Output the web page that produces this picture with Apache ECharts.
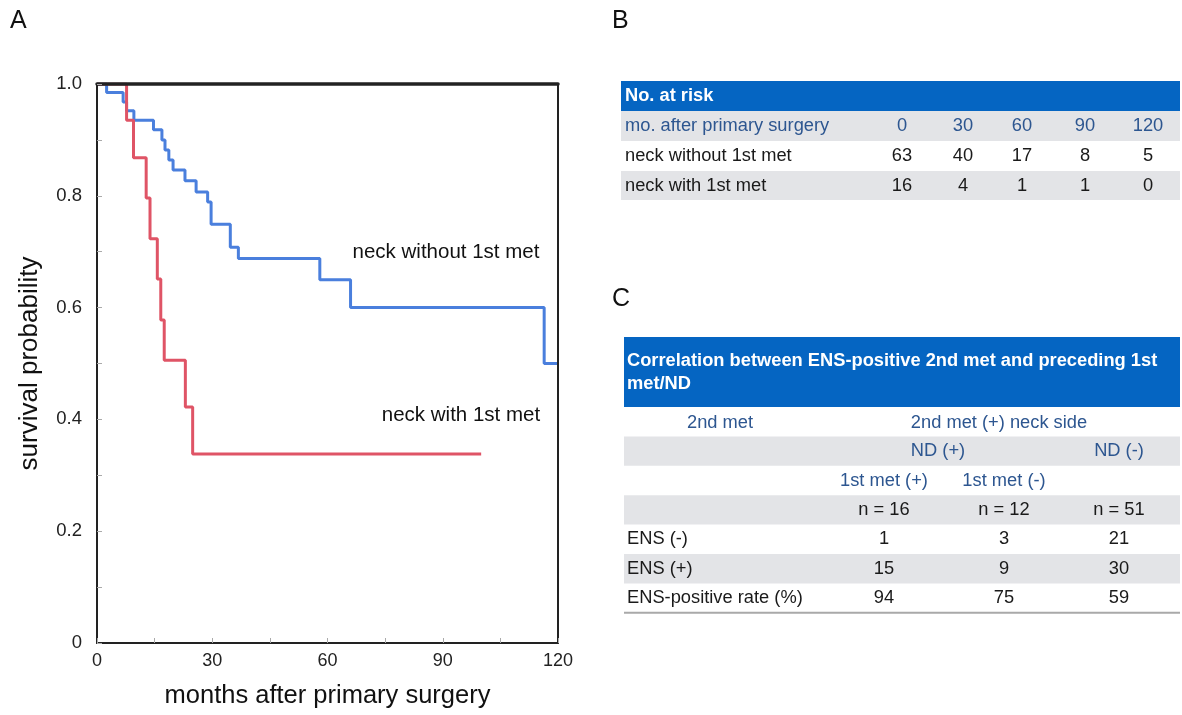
<!DOCTYPE html>
<html>
<head>
<meta charset="utf-8">
<script src="https://cdn.jsdelivr.net/npm/echarts@6/dist/echarts.min.js"></script>
<style>
  html, body { margin: 0; padding: 0; background: #ffffff; }
  #chart { width: 1182px; height: 715px; }
</style>
</head>
<body>
<div id="chart"></div>
<script>
// Kaplan–Meier steps: [month, survival probability from that month on]
const neckWithoutMet = [
  [0, 1.0], [2.5, 0.985], [6.8, 0.968], [7.7, 0.952], [9.6, 0.935],
  [14.7, 0.918], [16.9, 0.900], [17.7, 0.882], [18.7, 0.864], [19.8, 0.846],
  [22.9, 0.827], [25.8, 0.807], [28.8, 0.789], [29.7, 0.749], [34.7, 0.708],
  [36.8, 0.688], [58, 0.650], [66, 0.600], [116.4, 0.500], [120, 0.500]
];
const neckWithMet = [
  [0, 1.0], [7.7, 0.935], [9.5, 0.868], [12.8, 0.796], [13.8, 0.723],
  [15.7, 0.651], [16.6, 0.578], [17.5, 0.506], [23, 0.422], [24.9, 0.338],
  [100, 0.338]
];
const seriesNames = ['neck without 1st met', 'neck with 1st met'];

// Table B: number at risk
const riskTitle = 'No. at risk';
const riskAxisLabel = 'mo. after primary surgery';
const riskMonths = [0, 30, 60, 90, 120];
const riskRowLabels = ['neck without 1st met', 'neck with 1st met'];
const riskCounts = [
  [63, 40, 17, 8, 5],
  [16, 4, 1, 1, 0]
];

// Table C: ENS-positive 2nd met vs preceding 1st met / ND
const ensTitleLines = ['Correlation between ENS-positive 2nd met and preceding 1st', 'met/ND'];
const ensFirstHeader = ['2nd met', '2nd met (+) neck side'];
const ensNdHeader = ['ND (+)', 'ND (-)'];
const ensMetHeader = ['1st met (+)', '1st met (-)'];
const ensN = [16, 12, 51];
const ensRowLabels = ['ENS (-)', 'ENS (+)', 'ENS-positive rate (%)'];
const ensValues = [
  [1, 3, 21],
  [15, 9, 30],
  [94, 75, 59]
];

const FONT = '"Liberation Sans", Arial, Helvetica, sans-serif';
const BLUE_LINE = '#4a7fdd';
const RED_LINE = '#df5466';
const HEAD_BLUE = '#0565c2';
const ROW_GRAY = '#e3e4e7';
const HEAD_TEXT = '#2d5690';

const chart = echarts.init(document.getElementById('chart'));

// ---------- table helpers ----------
function rect(x, y, w, h, fill) {
  return { type: 'rect', silent: true, shape: { x: x, y: y, width: w, height: h }, style: { fill: fill } };
}
function txt(s, x, y, opt) {
  opt = opt || {};
  return {
    type: 'text', silent: true, x: x, y: y,
    style: {
      text: String(s),
      font: (opt.bold ? 'bold ' : '') + (opt.size || 18.3) + 'px ' + FONT,
      fill: opt.color || '#1a1a1a',
      textAlign: opt.align || 'center',
      textVerticalAlign: 'middle'
    }
  };
}

const g = [];

// panel letters
g.push(txt('A', 10, 21, { size: 25, align: 'left', color: '#111' }));
g.push(txt('B', 612, 21, { size: 25, align: 'left', color: '#111' }));
g.push(txt('C', 612, 299, { size: 25, align: 'left', color: '#111' }));

// ---------- Table B ----------
const bx0 = 621, bx1 = 1180, bw = bx1 - bx0;
const bColX = [902, 963, 1022, 1085, 1148];
const bRowH = 30;
const bTop = 81;
g.push(rect(bx0, bTop, bw, bRowH, HEAD_BLUE));
g.push(txt(riskTitle, bx0 + 4, bTop + bRowH / 2, { bold: true, color: '#ffffff', align: 'left' }));
let by = bTop + bRowH;
g.push(rect(bx0, by, bw, bRowH, ROW_GRAY));
g.push(txt(riskAxisLabel, bx0 + 4, by + bRowH / 2, { color: HEAD_TEXT, align: 'left' }));
riskMonths.forEach((m, i) => g.push(txt(m, bColX[i], by + bRowH / 2, { color: HEAD_TEXT })));
riskRowLabels.forEach((lab, r) => {
  by += bRowH;
  if (r % 2 === 1) g.push(rect(bx0, by, bw, bRowH - 1, ROW_GRAY));
  g.push(txt(lab, bx0 + 4, by + bRowH / 2, { align: 'left' }));
  riskCounts[r].forEach((v, i) => g.push(txt(v, bColX[i], by + bRowH / 2)));
});

// ---------- Table C ----------
const cx0 = 624, cx1 = 1180, cw = cx1 - cx0;
const cColX = [884, 1004, 1119];
const cTop = 337, cHeadH = 70, cRowH = 29.4;
g.push(rect(cx0, cTop, cw, cHeadH, HEAD_BLUE));
ensTitleLines.forEach((line, i) =>
  g.push(txt(line, cx0 + 3, cTop + 24 + i * 23, { bold: true, color: '#ffffff', align: 'left' })));
let cy = cTop + cHeadH;
// header rows
g.push(txt(ensFirstHeader[0], 720, cy + cRowH / 2 + 1, { color: HEAD_TEXT }));
g.push(txt(ensFirstHeader[1], 999, cy + cRowH / 2 + 1, { color: HEAD_TEXT }));
cy += cRowH;
g.push(rect(cx0, cy, cw, cRowH, ROW_GRAY));
g.push(txt(ensNdHeader[0], 938, cy + cRowH / 2, { color: HEAD_TEXT }));
g.push(txt(ensNdHeader[1], cColX[2], cy + cRowH / 2, { color: HEAD_TEXT }));
cy += cRowH;
ensMetHeader.forEach((s, i) => g.push(txt(s, cColX[i], cy + cRowH / 2, { color: HEAD_TEXT })));
cy += cRowH;
g.push(rect(cx0, cy, cw, cRowH, ROW_GRAY));
ensN.forEach((n, i) => g.push(txt('n = ' + n, cColX[i], cy + cRowH / 2)));
ensRowLabels.forEach((lab, r) => {
  cy += cRowH;
  if (r % 2 === 1) g.push(rect(cx0, cy, cw, cRowH, ROW_GRAY));
  g.push(txt(lab, cx0 + 3, cy + cRowH / 2, { align: 'left' }));
  ensValues[r].forEach((v, i) => g.push(txt(v, cColX[i], cy + cRowH / 2)));
});
cy += cRowH;
g.push({ type: 'line', silent: true, shape: { x1: cx0, y1: cy, x2: cx1, y2: cy }, style: { stroke: '#a9a9a9', lineWidth: 2 } });

// curve labels
g.push(txt(seriesNames[0], 446, 252, { size: 20.5, color: '#111' }));
g.push(txt(seriesNames[1], 461, 415, { size: 20.5, color: '#111' }));

const frameLine = { show: true, onZero: false, lineStyle: { color: '#222', width: 2 } };

chart.setOption({
  animation: false,
  backgroundColor: '#ffffff',
  textStyle: { fontFamily: FONT },
  grid: { left: 97, right: 1182 - 558, top: 84, bottom: 715 - 643 },
  xAxis: [
    {
      type: 'value', min: 0, max: 120, interval: 30,
      name: 'months after primary surgery', nameLocation: 'middle', nameGap: 40,
      nameTextStyle: { fontSize: 25.5, color: '#111', fontFamily: FONT },
      axisLine: frameLine,
      axisTick: { show: true, inside: true, length: 5, lineStyle: { color: '#aaa' } },
      minorTick: { show: true, splitNumber: 2, length: 5, lineStyle: { color: '#aaa' } },
      axisLabel: { fontSize: 18, color: '#222', margin: 9, fontFamily: FONT },
      splitLine: { show: false }, z: 5
    },
    {
      // top edge of the frame, wide enough to cover the 1.0 start of both curves
      type: 'value', position: 'top', min: 0, max: 120,
      axisLine: { show: true, onZero: false, lineStyle: { color: '#222', width: 3.5 } },
      axisTick: { show: false }, axisLabel: { show: false },
      splitLine: { show: false }, z: 5
    }
  ],
  yAxis: [
    {
      type: 'value', min: 0, max: 1, interval: 0.2,
      name: 'survival probability', nameLocation: 'middle', nameGap: 54, nameRotate: 90,
      nameTextStyle: { fontSize: 26, color: '#111', fontFamily: FONT },
      axisLine: frameLine,
      axisTick: { show: true, inside: true, length: 5, lineStyle: { color: '#aaa' } },
      minorTick: { show: true, splitNumber: 2, length: 5, lineStyle: { color: '#aaa' } },
      axisLabel: {
        fontSize: 18.5, color: '#222', margin: 15, fontFamily: FONT,
        formatter: v => (v === 0 ? '0' : v.toFixed(1))
      },
      splitLine: { show: false }, z: 5
    },
    {
      type: 'value', position: 'right', min: 0, max: 1,
      axisLine: frameLine, axisTick: { show: false }, axisLabel: { show: false },
      splitLine: { show: false }, z: 5
    }
  ],
  series: [
    {
      name: seriesNames[0], type: 'line', step: 'end', data: neckWithoutMet, z: 2,
      showSymbol: false, clip: true, lineStyle: { color: BLUE_LINE, width: 3 }, silent: true
    },
    {
      name: seriesNames[1], type: 'line', step: 'end', data: neckWithMet, z: 2,
      showSymbol: false, clip: true, lineStyle: { color: RED_LINE, width: 3 }, silent: true
    }
  ],
  graphic: g
});
</script>
</body>
</html>
